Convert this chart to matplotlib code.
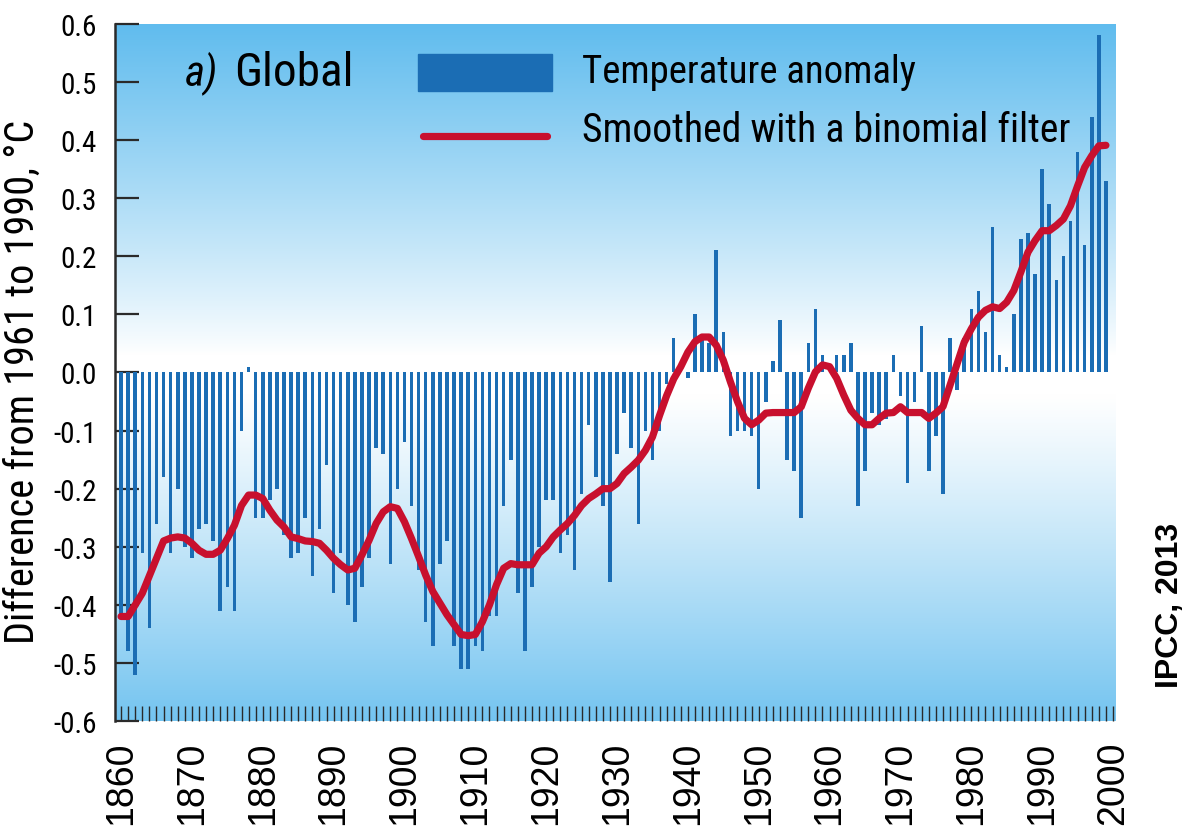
import numpy as np
import matplotlib
matplotlib.use("Agg")
import matplotlib.pyplot as plt
from matplotlib.patches import Rectangle
from matplotlib.lines import Line2D
from matplotlib.ticker import MultipleLocator
from matplotlib import font_manager

# Annual global temperature anomaly (difference from 1961-1990, deg C)
years = list(range(1860, 2000))
anomaly = [
    -0.42, -0.48, -0.52, -0.31, -0.44, -0.26, -0.18, -0.31, -0.20, -0.30,  # 1860s
    -0.32, -0.27, -0.26, -0.29, -0.41, -0.37, -0.41, -0.10, 0.01, -0.25,   # 1870s
    -0.25, -0.22, -0.20, -0.28, -0.32, -0.31, -0.25, -0.35, -0.27, -0.16,  # 1880s
    -0.38, -0.31, -0.40, -0.43, -0.37, -0.32, -0.13, -0.14, -0.33, -0.20,  # 1890s
    -0.12, -0.23, -0.34, -0.43, -0.47, -0.33, -0.29, -0.47, -0.51, -0.51,  # 1900s
    -0.47, -0.48, -0.42, -0.42, -0.23, -0.15, -0.38, -0.48, -0.37, -0.30,  # 1910s
    -0.22, -0.22, -0.31, -0.28, -0.34, -0.21, -0.09, -0.18, -0.23, -0.36,  # 1920s
    -0.14, -0.07, -0.13, -0.26, -0.10, -0.15, -0.10, -0.02, 0.06, 0.00,    # 1930s
    -0.01, 0.10, 0.06, 0.05, 0.21, 0.07, -0.11, -0.10, -0.10, -0.11,       # 1940s
    -0.20, -0.05, 0.02, 0.09, -0.15, -0.17, -0.25, 0.05, 0.11, 0.03,       # 1950s
    0.00, 0.03, 0.03, 0.05, -0.23, -0.17, -0.07, -0.09, -0.08, 0.03,       # 1960s
    -0.04, -0.19, -0.05, 0.08, -0.17, -0.11, -0.21, 0.06, -0.03, 0.06,     # 1970s
    0.11, 0.14, 0.07, 0.25, 0.03, 0.01, 0.10, 0.23, 0.24, 0.17,            # 1980s
    0.35, 0.29, 0.16, 0.20, 0.26, 0.38, 0.22, 0.44, 0.58, 0.33,            # 1990s
]

# Smoothed curve (binomial filter), one value per year
smoothed = [
    -0.42, -0.42, -0.40, -0.38, -0.35, -0.32, -0.29, -0.285, -0.283, -0.285,
    -0.294, -0.306, -0.313, -0.313, -0.306, -0.286, -0.263, -0.229, -0.211, -0.211,
    -0.217, -0.237, -0.254, -0.266, -0.283, -0.286, -0.29, -0.291, -0.294, -0.306,
    -0.32, -0.331, -0.34, -0.337, -0.314, -0.289, -0.26, -0.24, -0.231, -0.234,
    -0.257, -0.286, -0.317, -0.349, -0.377, -0.397, -0.417, -0.434, -0.451, -0.453,
    -0.451, -0.429, -0.40, -0.365, -0.337, -0.329, -0.331, -0.331, -0.331, -0.311,
    -0.30, -0.283, -0.271, -0.26, -0.246, -0.229, -0.217, -0.209, -0.20, -0.20,
    -0.191, -0.174, -0.163, -0.151, -0.134, -0.111, -0.074, -0.04, -0.011, 0.01,
    0.035, 0.053, 0.061, 0.061, 0.047, 0.021, -0.016, -0.05, -0.079, -0.09,
    -0.082, -0.07, -0.069, -0.069, -0.069, -0.069, -0.059, -0.027, 0.001, 0.013,
    0.01, -0.01, -0.039, -0.065, -0.079, -0.09, -0.09, -0.079, -0.07, -0.069,
    -0.059, -0.069, -0.069, -0.069, -0.079, -0.07, -0.059, -0.022, 0.015, 0.052,
    0.075, 0.095, 0.107, 0.113, 0.11, 0.121, 0.141, 0.173, 0.207, 0.227,
    0.244, 0.244, 0.253, 0.264, 0.287, 0.321, 0.353, 0.373, 0.39, 0.391,
]

ytick_values = [-0.6, -0.5, -0.4, -0.3, -0.2, -0.1, 0.0, 0.1, 0.2, 0.3, 0.4, 0.5, 0.6]
ytick_labels = ["-0.6", "-0.5", "-0.4", "-0.3", "-0.2", "-0.1", "0.0",
                "0.1", "0.2", "0.3", "0.4", "0.5", "0.6"]
xtick_years = [1860, 1870, 1880, 1890, 1900, 1910, 1920, 1930, 1940, 1950,
               1960, 1970, 1980, 1990, 2000]

BAR_COLOR = "#1b6db4"
LINE_COLOR = "#c8102e"


def pick_font(names):
    installed = {f.name for f in font_manager.fontManager.ttflist}
    for n in names:
        if n in installed:
            return n
    return "DejaVu Sans"


narrow = pick_font(["Liberation Sans Narrow", "Arial Narrow", "Roboto Condensed", "DejaVu Sans"])
regular = pick_font(["Liberation Sans", "Arial", "DejaVu Sans"])

fig = plt.figure(figsize=(11.92, 8.29), dpi=100)
ax = fig.add_axes([0.0965, 0.129, 0.839, 0.841])

x0, x1 = 1859.15, 2000.3
y0, y1 = -0.6, 0.6

# sky-style background: white around zero, blue towards the top and bottom
v = np.linspace(y1, y0, 400)
top = np.array([96, 188, 238]) / 255.0
bottom = np.array([116, 196, 240]) / 255.0
white = np.array([1.0, 1.0, 1.0])
t_up = np.clip((v - 0.03) / 0.57, 0, 1) ** 0.9
t_dn = np.clip((-v - 0.04) / 0.56, 0, 1) ** 1.1
t = np.where(v > 0, t_up, t_dn)
col = np.where((v > 0)[:, None], top, bottom)
grad = white * (1 - t[:, None]) + col * t[:, None]
ax.imshow(grad[:, None, :], extent=(x0, x1, y0, y1), aspect="auto",
          interpolation="bilinear", zorder=0)

ax.bar(years, anomaly, width=0.5, color=BAR_COLOR, zorder=2)
ax.plot(years, smoothed, color=LINE_COLOR, lw=5.2, solid_capstyle="round",
        solid_joinstyle="round", zorder=3)

ax.set_xlim(x0, x1)
ax.set_ylim(y0, y1)

for side in ("top", "right", "bottom"):
    ax.spines[side].set_visible(False)
ax.spines["left"].set_linewidth(1.8)
ax.spines["left"].set_color("#2a2a2a")

ax.set_yticks(ytick_values)
ax.set_yticklabels(ytick_labels, fontfamily=narrow, fontsize=21)
ax.tick_params(axis="y", direction="in", length=17, width=1.6, color="#2a2a2a", pad=13)

ax.set_xticks(xtick_years)
ax.set_xticklabels([str(y) for y in xtick_years], rotation=90,
                   fontfamily=regular, fontsize=27)
ax.xaxis.set_minor_locator(MultipleLocator(1))
ax.tick_params(axis="x", which="both", direction="in", length=11, width=1.0,
               color="#2a2a2a", pad=14)

ax.set_ylabel("Difference from 1961 to 1990, \u00b0C", fontfamily=narrow,
              fontsize=29)
ax.yaxis.set_label_coords(-0.073, 0.488)

# legend drawn by hand in axes coordinates
ax.add_patch(Rectangle((0.303, 0.904), 0.134, 0.053, transform=ax.transAxes,
                       color=BAR_COLOR, zorder=4))
ax.add_line(Line2D([0.308, 0.432], [0.839, 0.839], transform=ax.transAxes,
                   color=LINE_COLOR, lw=5.2, solid_capstyle="round", zorder=4))
ax.text(0.467, 0.931, "Temperature anomaly", transform=ax.transAxes,
        fontfamily=narrow, fontsize=28, va="center", ha="left", zorder=4)
ax.text(0.467, 0.849, "Smoothed with a binomial filter", transform=ax.transAxes,
        fontfamily=narrow, fontsize=28.5, va="center", ha="left", zorder=4)
ax.text(0.07, 0.931, "a)", transform=ax.transAxes, fontfamily=narrow,
        fontsize=31, style="italic", va="center", ha="left", zorder=4)
ax.text(0.119, 0.931, "Global", transform=ax.transAxes, fontfamily=narrow,
        fontsize=34, va="center", ha="left", zorder=4)

fig.text(0.9815, 0.27, "IPCC, 2013", rotation=90, fontfamily=regular,
         fontweight="bold", fontsize=23, ha="center", va="center")

fig.savefig("out.png", dpi=100, facecolor="white")
